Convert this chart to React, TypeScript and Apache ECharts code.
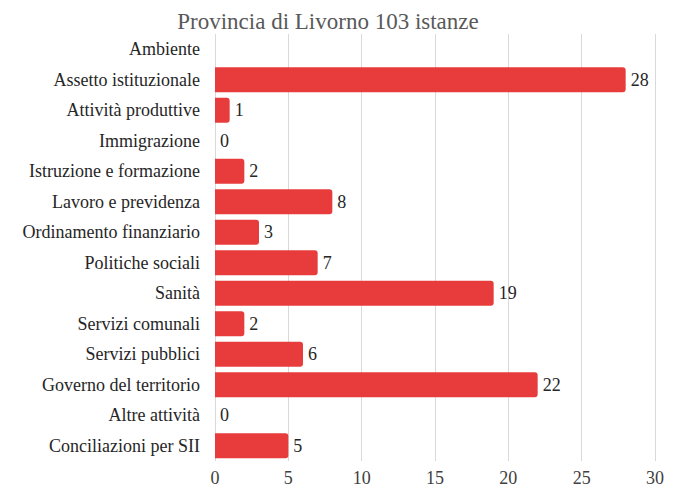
import React, { useEffect, useRef } from "react";
import * as echarts from "echarts";

const titleText = "Provincia di Livorno 103 istanze";
const categories = [
  "Ambiente",
  "Assetto istituzionale",
  "Attività produttive",
  "Immigrazione",
  "Istruzione e formazione",
  "Lavoro e previdenza",
  "Ordinamento finanziario",
  "Politiche sociali",
  "Sanità",
  "Servizi comunali",
  "Servizi pubblici",
  "Governo del territorio",
  "Altre attività",
  "Conciliazioni per SII",
];
const values: (number | null)[] = [null, 28, 1, 0, 2, 8, 3, 7, 19, 2, 6, 22, 0, 5];

const FONT = "Liberation Serif";

export default function App() {
  const ref = useRef<HTMLDivElement>(null);
  useEffect(() => {
    if (!ref.current) return;
    const chart = echarts.init(ref.current, null, { renderer: "svg" });
    chart.setOption({
      animation: false,
      textStyle: { fontFamily: FONT },
      title: {
        text: titleText,
        left: 315,
        textAlign: "center",
        top: 5,
        textStyle: { fontFamily: FONT, fontSize: 23, fontWeight: "normal", color: "#595959" },
      },
      grid: { left: 207, right: 24, top: 34, bottom: 28, containLabel: false },
      xAxis: {
        type: "value",
        min: 0,
        max: 30,
        interval: 5,
        axisLine: { show: false },
        axisTick: { show: false },
        splitLine: { show: true, lineStyle: { color: "#d9d9d9", width: 1 } },
        axisLabel: { fontFamily: FONT, fontSize: 18, color: "#404040", margin: 8 },
      },
      yAxis: {
        type: "category",
        data: categories,
        inverse: true,
        axisLine: { show: false },
        axisTick: { show: false },
        axisLabel: { fontFamily: FONT, fontSize: 18, color: "#262626", margin: 15 },
      },
      series: [
        {
          type: "bar",
          data: values,
          barCategoryGap: "18%",
          itemStyle: { color: "#E83C3C", borderRadius: [0, 3, 3, 0] },
          label: {
            show: true,
            position: "right",
            distance: 5,
            fontFamily: FONT,
            fontSize: 18,
            color: "#262626",
          },
        },
      ],
    });
    return () => chart.dispose();
  }, []);
  return <div ref={ref} style={{ width: 671, height: 489, marginTop: -8 }} />;
}
